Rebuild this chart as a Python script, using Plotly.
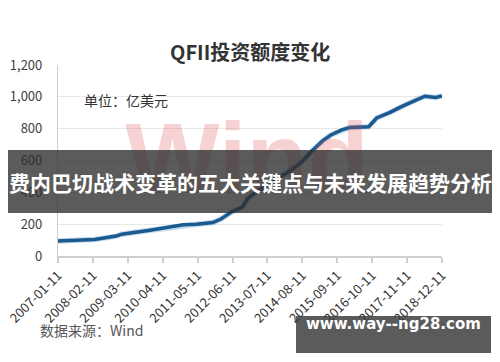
import plotly.graph_objects as go

# ---- data ----
dates = ["2007-01-11", "2008-03-01", "2008-11-01", "2009-01-01", "2009-11-01",
         "2010-06-01", "2010-12-01", "2011-05-01", "2011-11-01", "2012-02-01",
         "2012-06-01", "2012-10-01", "2012-12-01", "2013-03-01", "2013-07-01",
         "2013-12-01", "2014-04-01", "2014-08-01", "2014-12-01", "2015-04-01",
         "2015-07-01", "2015-11-01", "2016-02-01", "2016-09-01", "2016-12-01",
         "2017-05-01", "2017-09-01", "2018-03-01", "2018-06-01", "2018-10-01",
         "2018-12-11"]
quota = [95, 104, 125, 137, 160, 177, 196, 200, 210, 232,
         277, 308, 362, 400, 440, 496, 537, 590, 662, 725,
         760, 792, 808, 812, 867, 902, 937, 985, 1004, 996,
         1006]
tick_dates = ["2007-01-11", "2008-02-11", "2009-03-11", "2010-04-11", "2011-05-11",
              "2012-06-11", "2013-07-11", "2014-08-11", "2015-09-11", "2016-10-11",
              "2017-11-11", "2018-12-11"]
y_ticks = [0, 200, 400, 600, 800, 1000, 1200]

title_text = "QFII投资额度变化"
unit_text = "单位：亿美元"
source_text = "数据来源：Wind"
watermark_text = "Wind"
banner_text = "费内巴切战术变革的五大关键点与未来发展趋势分析"
site_text = "www.way--ng28.com"

W, H = 500, 362
L, R, T, B = 58, 58, 65, 106
PW, PH = W - L - R, H - T - B

def px(x):
    return (x - L) / PW

def py(y):
    return (H - B - y) / PH

CJK = "Noto Sans CJK SC"

fig = go.Figure()

# watermark (as a trace so it sits below the overlay shapes)
fig.add_trace(go.Scatter(
    x=[px(247)], y=[py(168)], xaxis="x2", yaxis="y2",
    mode="text", text=[watermark_text], textposition="middle center",
    textfont=dict(family="Liberation Sans", size=100, color="rgba(225,80,80,0.26)", weight="bold"),
    hoverinfo="skip", showlegend=False))

# glow under the line
fig.add_trace(go.Scatter(
    x=dates, y=quota, mode="lines",
    line=dict(color="rgba(90,150,210,0.35)", width=5.5),
    hoverinfo="skip", showlegend=False))
fig.add_trace(go.Scatter(
    x=dates, y=quota, mode="lines",
    line=dict(color="#1b5a8f", width=3.5),
    showlegend=False))

fig.update_layout(
    width=W, height=H,
    margin=dict(l=L, r=R, t=T, b=B, autoexpand=False),
    paper_bgcolor="white", plot_bgcolor="white",
    font=dict(family=CJK, color="#404040"),
    xaxis=dict(
        type="date", range=[tick_dates[0], tick_dates[-1]],
        tickvals=tick_dates, ticktext=tick_dates, tickangle=-45,
        tickfont=dict(size=13, color="#333333"), automargin=False,
        showgrid=False, showline=True, linecolor="#cfcfcf", linewidth=1.5,
        ticks="outside", ticklen=5, tickcolor="#cfcfcf", tickwidth=1.5,
        zeroline=False),
    yaxis=dict(
        range=[0, 1200], tickvals=y_ticks, tickformat=",", automargin=False,
        tickfont=dict(size=13, color="#404040"),
        showgrid=True, gridcolor="#e8e8e8", gridwidth=1.2,
        showline=True, linecolor="#cfcfcf", linewidth=1.2,
        ticks="", ticklabelstandoff=12, zeroline=False),
    xaxis2=dict(overlaying="x", range=[0, 1], visible=False, fixedrange=True),
    yaxis2=dict(overlaying="y", range=[0, 1], visible=False, fixedrange=True),
)

# banner and site box
fig.add_shape(type="rect", xref="paper", yref="paper",
              x0=px(8), x1=px(492), y0=py(213), y1=py(150),
              fillcolor="rgba(45,45,45,0.78)", line=dict(width=0), layer="above")
fig.add_shape(type="rect", xref="paper", yref="paper",
              x0=px(296), x1=px(491), y0=py(353), y1=py(316),
              fillcolor="rgba(45,45,45,0.78)", line=dict(width=0), layer="above")

fig.add_annotation(text=title_text, xref="paper", yref="paper",
                   x=px(250), y=py(35), showarrow=False,
                   font=dict(family=CJK, size=20, color="#333333", weight="bold"))
fig.add_annotation(text=unit_text, xref="paper", yref="paper",
                   x=px(82), y=py(88), xanchor="left", showarrow=False,
                   font=dict(family=CJK, size=14, color="#333333"))
fig.add_annotation(text=source_text, xref="paper", yref="paper",
                   x=px(38), y=py(342), xanchor="left", showarrow=False,
                   font=dict(family=CJK, size=14, color="#555555"))
fig.add_annotation(text=banner_text, xref="paper", yref="paper",
                   x=px(250), y=py(182), showarrow=False,
                   font=dict(family=CJK, size=21, color="white", weight="bold"))
fig.add_annotation(text=site_text, xref="paper", yref="paper",
                   x=px(393), y=py(335), xanchor="center", showarrow=False,
                   font=dict(family="DejaVu Sans", size=15, color="white", weight="bold"))

fig.write_html("out.html")
